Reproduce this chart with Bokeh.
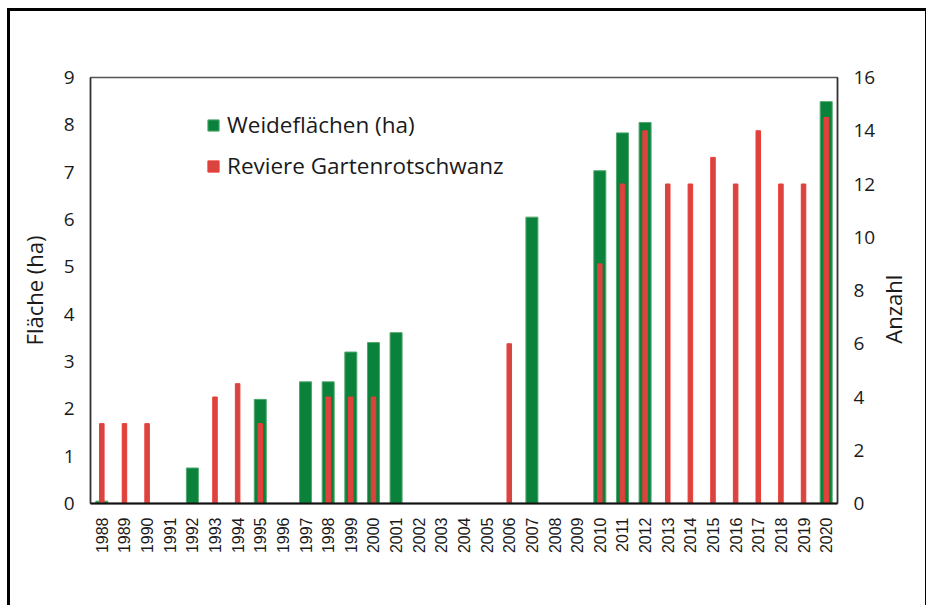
from bokeh.plotting import figure
from bokeh.models import Range1d, LinearAxis, FactorRange, Legend, LegendItem, FixedTicker
from bokeh.embed import file_html
from bokeh.resources import INLINE

years = [str(y) for y in range(1988, 2021)]

weideflaechen = [0.05, 0, 0, 0, 0.75, 0, 0, 2.2, 0, 2.57, 2.57, 3.2, 3.4, 3.61,
                 0, 0, 0, 0, 0, 6.05, 0, 0, 7.03, 7.83, 8.05, 0, 0, 0, 0, 0, 0, 0, 8.49]
reviere = [3, 3, 3, 0, 0, 4, 4.5, 3, 0, 0, 4, 4, 4, 0,
           0, 0, 0, 0, 6, 0, 0, 0, 9, 12, 14, 12, 12, 13, 12, 14, 12, 12, 14.5]

left_ticks = list(range(0, 10))
right_ticks = list(range(0, 17, 2))
right_title = "Anzahl"
right_title_pos = 6.0

p = figure(x_range=FactorRange(*years), y_range=Range1d(0, 9),
           frame_width=747, frame_height=426,
           min_border_left=80, min_border_right=81, min_border_top=66, min_border_bottom=102,
           output_backend="svg", toolbar_location=None)
p.styles = {"margin-left": "7px", "margin-top": "8px",
            "border-left": "3px solid black", "border-top": "3px solid black",
            "border-right": "3px solid black"}
p.extra_y_ranges = {"right": Range1d(0, 16)}

g = p.vbar(x=years, top=weideflaechen, width=0.53, fill_color="#0a823b",
           line_color="#4fa86c", line_width=1)
r = p.vbar(x=years, top=reviere, width=0.2, fill_color="#d84541",
           line_color="#ee3a34", line_width=1, y_range_name="right")

p.xgrid.grid_line_color = None
p.ygrid.grid_line_color = None
p.background_fill_color = "white"
p.border_fill_color = "white"
p.outline_line_color = "#555555"
p.outline_line_width = 1.5

right_axis = LinearAxis(y_range_name="right")
p.add_layout(right_axis, "right")

for ax in [p.yaxis[0], right_axis]:
    ax.major_tick_line_color = None
    ax.minor_tick_line_color = None
    ax.major_label_text_font = "Open Sans"
    ax.major_label_text_font_size = "19px"
    ax.major_label_text_color = "#1a1a1a"
    ax.axis_label_text_font = "Open Sans"
    ax.axis_label_text_font_size = "22px"
    ax.axis_label_text_font_style = "normal"
    ax.axis_label_text_color = "#1a1a1a"
    ax.major_label_standoff = 10
    ax.axis_line_color = "#333333"
    ax.axis_line_width = 1.5

p.yaxis[0].ticker = FixedTicker(ticks=left_ticks)
right_axis.ticker = FixedTicker(ticks=right_ticks)
p.yaxis[0].axis_label = "Fläche (ha)"
p.yaxis[0].axis_label_standoff = 12

# right-hand axis title, reading bottom-to-top like the reference
title_axis = LinearAxis(y_range_name="right", ticker=FixedTicker(ticks=[right_title_pos]),
                        major_label_overrides={right_title_pos: right_title})
title_axis.axis_line_color = None
title_axis.major_tick_line_color = None
title_axis.minor_tick_line_color = None
title_axis.major_label_orientation = 1.5707963
title_axis.major_label_standoff = 8
title_axis.major_label_text_font = "Open Sans"
title_axis.major_label_text_font_size = "22px"
title_axis.major_label_text_color = "#1a1a1a"
p.add_layout(title_axis, "right")

xa = p.xaxis[0]
xa.major_label_orientation = 1.5707963
xa.major_tick_line_color = None
xa.minor_tick_line_color = None
xa.major_label_text_font = "Liberation Sans"
xa.major_label_text_font_size = "16px"
xa.major_label_text_color = "#1a1a1a"
xa.major_label_standoff = 8
xa.axis_line_color = "#111111"
xa.axis_line_width = 2

legend = Legend(items=[LegendItem(label="Weideflächen (ha)", renderers=[g]),
                       LegendItem(label="Reviere Gartenrotschwanz", renderers=[r])],
                location=(116, 322))
legend.border_line_color = None
legend.background_fill_alpha = 0
legend.padding = 0
legend.margin = 0
legend.spacing = 10
legend.glyph_width = 14
legend.glyph_height = 14
legend.label_standoff = 7
legend.label_text_font = "Open Sans"
legend.label_text_font_size = "22.5px"
legend.label_text_color = "#1a1a1a"
p.add_layout(legend)

open("out.html", "w").write(file_html(p, INLINE))
